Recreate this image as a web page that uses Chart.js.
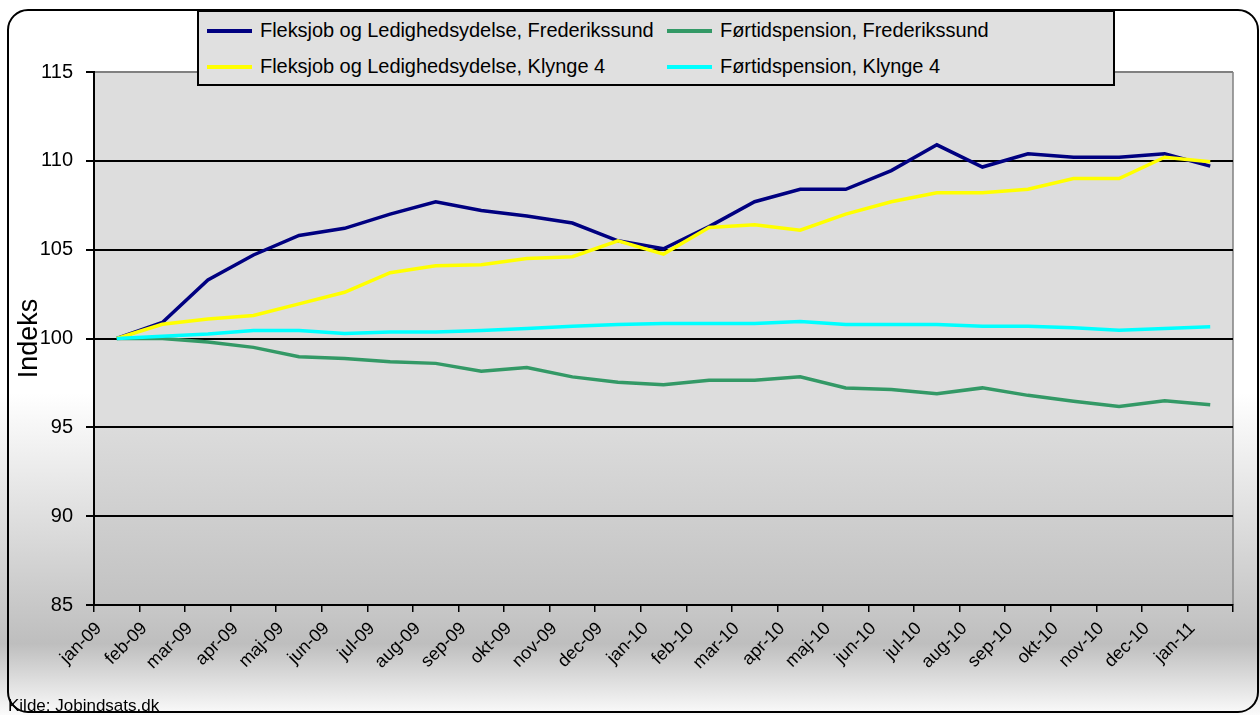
<!DOCTYPE html>
<html>
<head>
<meta charset="utf-8">
<script src="https://cdn.jsdelivr.net/npm/chart.js@4/dist/chart.umd.min.js"></script>
<style>
  html, body { margin: 0; padding: 0; background: #fff; }
  #wrap { position: relative; width: 1260px; height: 715px; overflow: hidden; font-family: 'Liberation Sans', Arial, sans-serif; }
  #chart { position: absolute; left: 0; top: 0; }
  #legend {
    position: absolute; left: 197px; top: 10px; width: 914px; height: 72px;
    background: #e0e0e0; border: 2px solid #000; box-sizing: content-box;
  }
  #legend .item { position: absolute; font-size: 20px; color: #000; white-space: nowrap; line-height: 22px; letter-spacing: -0.05px; }
  #legend .swatch { display: inline-block; width: 45px; height: 4px; vertical-align: middle; margin-right: 8px; position: relative; top: -1px; }
  #source { position: absolute; left: 8px; top: 696px; font-size: 17px; color: #000; }
</style>
</head>
<body>
<div id="wrap">
  <canvas id="chart" width="1260" height="715"></canvas>
  <div id="legend"></div>
  <div id="source">Kilde: Jobindsats.dk</div>
</div>
<script>
  /* === Data === */
  var months = ['jan-09', 'feb-09', 'mar-09', 'apr-09', 'maj-09', 'jun-09', 'jul-09', 'aug-09',
    'sep-09', 'okt-09', 'nov-09', 'dec-09', 'jan-10', 'feb-10', 'mar-10', 'apr-10', 'maj-10',
    'jun-10', 'jul-10', 'aug-10', 'sep-10', 'okt-10', 'nov-10', 'dec-10', 'jan-11'];

  var flexFrederikssund = [100, 100.9, 103.3, 104.7, 105.8, 106.2, 107.0, 107.7, 107.2, 106.9,
    106.5, 105.5, 105.05, 106.3, 107.7, 108.4, 108.4, 109.45, 110.9, 109.65, 110.4, 110.2,
    110.2, 110.4, 109.7];
  var foertidFrederikssund = [100, 100, 99.8, 99.5, 98.97, 98.87, 98.69, 98.6, 98.16, 98.37,
    97.84, 97.54, 97.4, 97.65, 97.65, 97.84, 97.22, 97.13, 96.89, 97.22, 96.8, 96.47, 96.17,
    96.5, 96.27];
  var flexKlynge4 = [100, 100.8, 101.1, 101.3, 101.95, 102.6, 103.7, 104.1, 104.15, 104.5,
    104.6, 105.5, 104.75, 106.25, 106.4, 106.1, 107.0, 107.7, 108.2, 108.2, 108.4, 109.0,
    109.0, 110.2, 109.95];
  var foertidKlynge4 = [100, 100.13, 100.26, 100.45, 100.45, 100.28, 100.36, 100.36, 100.45,
    100.56, 100.69, 100.79, 100.84, 100.84, 100.84, 100.96, 100.79, 100.79, 100.79, 100.69,
    100.69, 100.6, 100.47, 100.56, 100.66];

  var seriesNames = ['Fleksjob og Ledighedsydelse, Frederikssund', 'Førtidspension, Frederikssund',
    'Fleksjob og Ledighedsydelse, Klynge 4', 'Førtidspension, Klynge 4'];
  var seriesColors = ['#000080', '#339966', '#ffff00', '#00ffff'];

  var FONT = "'Liberation Sans', Arial, sans-serif";

  // Backgrounds: page gradient, rounded frame, plot area gradient
  var backgroundPlugin = {
    id: 'backgrounds',
    beforeDraw: function (chart) {
      var c = chart.ctx;
      var W = chart.width, H = chart.height;
      var a = chart.chartArea;
      c.save();
      var g = c.createLinearGradient(0, 0, 0, H);
      g.addColorStop(0, '#ffffff');
      g.addColorStop(0.55, '#ffffff');
      g.addColorStop(0.9, '#bebebe');
      g.addColorStop(1, '#fbfbfb');
      c.fillStyle = g;
      c.fillRect(0, 0, W, H);

      var pg = c.createLinearGradient(0, a.top, 0, a.bottom);
      pg.addColorStop(0, '#dddddd');
      pg.addColorStop(0.65, '#dddddd');
      pg.addColorStop(1, '#c2c2c2');
      c.fillStyle = pg;
      c.fillRect(a.left, a.top, a.right - a.left, a.bottom - a.top);

      c.strokeStyle = '#808080';
      c.lineWidth = 1.5;
      c.beginPath();
      c.moveTo(a.right, a.top);
      c.lineTo(a.right, a.bottom);
      c.stroke();

      c.strokeStyle = '#000';
      c.lineWidth = 2;
      c.beginPath();
      c.roundRect(8, 10, 1250, 702, 20);
      c.stroke();
      c.restore();
    }
  };

  var datasets = [flexFrederikssund, foertidFrederikssund, flexKlynge4, foertidKlynge4].map(function (vals, i) {
    return {
      label: seriesNames[i],
      data: vals,
      borderColor: seriesColors[i],
      backgroundColor: seriesColors[i],
      borderWidth: 3.5,
      pointRadius: 0,
      tension: 0,
      fill: false,
      order: 4 - i,
    };
  });

  new Chart(document.getElementById('chart'), {
    type: 'line',
    data: { labels: months, datasets: datasets },
    plugins: [backgroundPlugin],
    options: {
      responsive: false,
      animation: false,
      devicePixelRatio: 1,
      layout: { padding: { left: 0, top: 72, right: 27, bottom: 0 } },
      plugins: { legend: { display: false }, tooltip: { enabled: false } },
      scales: {
        x: {
          offset: true,
          afterFit: function (s) { s.height = 110; },
          grid: {
            offset: true,
            drawOnChartArea: false,
            drawTicks: true,
            tickLength: 7,
            color: '#000',
            lineWidth: 1.5,
          },
          border: { color: '#000', width: 2 },
          ticks: {
            autoSkip: false,
            maxRotation: 45,
            minRotation: 45,
            color: '#000',
            padding: 6,
            labelOffset: -18,
            font: { family: FONT, size: 18 },
          },
        },
        y: {
          min: 85,
          max: 115,
          afterFit: function (s) { s.width = 94; },
          ticks: {
            stepSize: 5,
            color: '#000',
            padding: 13,
            font: { family: FONT, size: 20 },
          },
          grid: {
            color: function (ctx) { return ctx.tick && ctx.tick.value === 115 ? '#808080' : '#000'; },
            lineWidth: 2,
            tickColor: '#000',
            tickLength: 8,
          },
          border: { color: '#000', width: 2 },
          title: {
            display: true,
            text: 'Indeks',
            color: '#000',
            padding: { top: 13, bottom: 0 },
            font: { family: FONT, size: 27 },
          },
        },
      },
    },
  });

  // Legend, two rows of two entries
  var legendPos = [[8, 7], [468, 7], [8, 43], [468, 43]];
  var legendEl = document.getElementById('legend');
  seriesNames.forEach(function (name, i) {
    var item = document.createElement('div');
    item.className = 'item';
    item.style.left = legendPos[i][0] + 'px';
    item.style.top = legendPos[i][1] + 'px';
    item.innerHTML = '<span class="swatch" style="background:' + seriesColors[i] + '"></span>' + name;
    legendEl.appendChild(item);
  });
</script>
</body>
</html>
